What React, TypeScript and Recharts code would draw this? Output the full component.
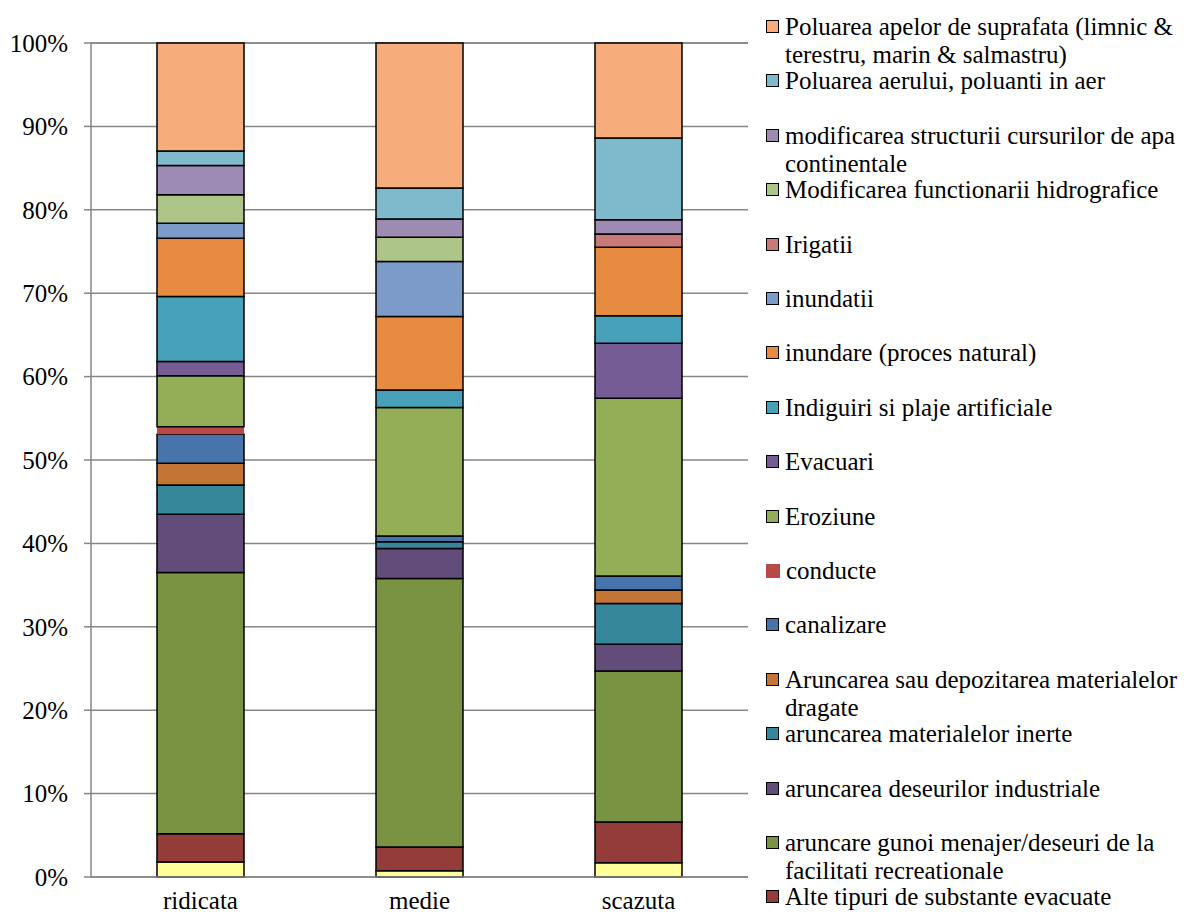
import React from 'react';
import { BarChart, Bar, XAxis, YAxis, CartesianGrid } from 'recharts';

const categories = ['ridicata', 'medie', 'scazuta'];

// procente pe categorie, de jos in sus
const alteSurse = [1.8, 0.75, 1.7];
const alteSubstante = [3.4, 2.85, 4.9];
const gunoiMenajer = [31.3, 32.2, 18.1];
const deseuriIndustriale = [7.0, 3.6, 3.2];
const materialeInerte = [3.5, 0.8, 4.9];
const materialeDragate = [2.6, 0, 1.6];
const canalizare = [3.5, 0.7, 1.7];
const conducte = [0.9, 0, 0];
const eroziune = [6.1, 15.4, 21.3];
const evacuari = [1.7, 0, 6.6];
const indiguiri = [7.8, 2.1, 3.3];
const inundare = [7.0, 8.8, 8.2];
const inundatii = [1.8, 6.6, 0];
const irigatii = [0, 0, 1.6];
const functionareHidro = [3.4, 2.9, 0];
const structuraCursuri = [3.5, 2.2, 1.7];
const poluareAer = [1.75, 3.7, 9.8];
const poluareApe = [12.95, 17.4, 11.4];

const seriesNames = [
  'Alte presiuni',
  'Alte tipuri de substante evacuate',
  'aruncare gunoi menajer/deseuri de la facilitati recreationale',
  'aruncarea deseurilor industriale',
  'aruncarea materialelor inerte',
  'Aruncarea sau depozitarea materialelor dragate',
  'canalizare',
  'conducte',
  'Eroziune',
  'Evacuari',
  'Indiguiri si plaje artificiale',
  'inundare (proces natural)',
  'inundatii',
  'Irigatii',
  'Modificarea functionarii hidrografice',
  'modificarea structurii cursurilor de apa continentale',
  'Poluarea aerului, poluanti in aer',
  'Poluarea apelor de suprafata (limnic & terestru, marin & salmastru)',
];

const seriesValues = [
  alteSurse, alteSubstante, gunoiMenajer, deseuriIndustriale, materialeInerte,
  materialeDragate, canalizare, conducte, eroziune, evacuari, indiguiri, inundare,
  inundatii, irigatii, functionareHidro, structuraCursuri, poluareAer, poluareApe,
];

const colors = [
  '#FFFF99', '#943C3A', '#7A9343', '#614C7A', '#37879A', '#C47535',
  '#4874AC', '#B64A48', '#93AE57', '#765C95', '#47A1B8', '#E68B40',
  '#7D9BC8', '#C97A78', '#ADC588', '#9D8BB3', '#7EB9CC', '#F7AC7C',
];

const yTicks = [0, 10, 20, 30, 40, 50, 60, 70, 80, 90, 100];

const data = categories.map((name, i) => {
  const row: Record<string, string | number> = { name };
  seriesValues.forEach((vals, s) => { row[`s${s}`] = vals[i]; });
  return row;
});

const FONT = "'Liberation Serif', 'DejaVu Serif', serif";
const GRID = '#868686';

const App: React.FC = () => {
  // legenda din original e taiata jos: prima serie (galbena) nu mai incape
  const legendOrder = seriesNames.map((n, i) => i).reverse().filter((i) => i !== 0);
  return (
    <div style={{ position: 'absolute', left: 0, top: 0, width: 1187, height: 917, overflow: 'hidden', background: '#fff', fontFamily: FONT }}>
      <BarChart width={1187} height={917} data={data} margin={{ top: 43, right: 439, bottom: 0, left: 0 }}
        style={{ fontFamily: FONT }}>
        <CartesianGrid vertical={false} stroke={GRID} strokeWidth={1.5} />
        <XAxis xAxisId="edge" type="number" domain={[0, 3]} ticks={[0, 1, 2, 3]} tick={false}
          axisLine={false} tickLine={{ stroke: GRID, strokeWidth: 1.5 }} tickSize={8} height={0} />
        <XAxis dataKey="name" axisLine={{ stroke: GRID, strokeWidth: 1.5 }} tickLine={false} tickSize={0}
          tickMargin={14} height={40} tick={{ fill: '#000', fontSize: 25, fontFamily: FONT }} />
        <YAxis domain={[0, 100]} ticks={yTicks} tickFormatter={(v) => `${v}%`} width={91}
          axisLine={{ stroke: GRID, strokeWidth: 1.5 }} tickLine={{ stroke: GRID, strokeWidth: 1.5 }}
          tickSize={7} tickMargin={16} tick={{ fill: '#000', fontSize: 25, fontFamily: FONT }} />
        {seriesValues.map((_, s) => (
          <Bar key={s} dataKey={`s${s}`} stackId="a" fill={colors[s]} barSize={87}
            stroke={s === 7 ? 'none' : '#000'} strokeWidth={1.5} isAnimationActive={false} />
        ))}
      </BarChart>
      {legendOrder.map((s, k) => (
        <div key={s} style={{ position: 'absolute', left: 766, top: 27 + 54.4 * k - 14, width: 421, display: 'flex', alignItems: 'flex-start' }}>
          <div style={{
            width: s === 7 ? 14 : 11, height: s === 7 ? 14 : 11, marginTop: 7, flexShrink: 0,
            background: colors[s], border: s === 7 ? 'none' : '1.5px solid #000',
          }} />
          <div style={{ marginLeft: 6, fontSize: 25, lineHeight: '28px', color: '#000', width: 401, fontFamily: FONT }}>
            {seriesNames[s]}
          </div>
        </div>
      ))}
    </div>
  );
};

export default App;
